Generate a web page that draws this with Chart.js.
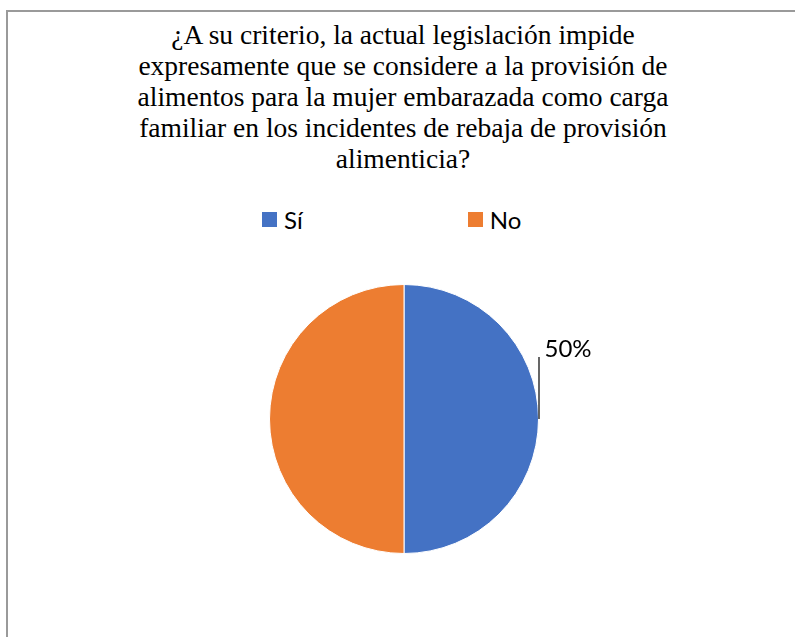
<!DOCTYPE html>
<html>
<head>
<meta charset="utf-8">
<script src="https://cdn.jsdelivr.net/npm/chart.js@4.4.1/dist/chart.umd.min.js"></script>
<style>
  html, body { margin: 0; padding: 0; background: #fff; width: 795px; height: 637px; overflow: hidden; }
  #frame { position: absolute; left: 6px; top: 10px; width: 830px; height: 680px;
    border-left: 2px solid #9a9a9a; border-top: 2px solid #9a9a9a; }
  #title { position: absolute; left: 0; top: 19px; width: 806px; text-align: center;
    font-family: "Liberation Serif", serif; font-size: 27.5px; line-height: 31px; color: #000; }
  #legend { position: absolute; left: 262px; top: 207px; height: 25px; display: flex; align-items: center; gap: 165px;
    font-family: Lato, sans-serif; font-size: 24px; color: #000; }
  .legend-item { display: flex; align-items: center; gap: 7px; }
  .legend-color { width: 15px; height: 15px; display: inline-block; }
  #wrap { position: absolute; left: 0; top: 0; width: 795px; height: 637px; }
</style>
</head>
<body>
<div id="frame"></div>
<div id="title"></div>
<div id="legend"></div>
<div id="wrap"><canvas id="pieChart"></canvas></div>
<script>
const titleLines = [
  "¿A su criterio, la actual legislación impide",
  "expresamente que se considere a la provisión de",
  "alimentos para la mujer embarazada como carga",
  "familiar en los incidentes de rebaja de provisión",
  "alimenticia?"
];
const categories = ["Sí", "No"];
const values = [50, 50];
const colors = ["#4472C4", "#ED7D31"];
const showLabel = [true, false];

document.getElementById("title").innerHTML = titleLines.join("<br>");

const leaderLabels = {
  id: "leaderLabels",
  afterDatasetsDraw(chart) {
    const ctx = chart.ctx;
    const data = chart.data.datasets[0].data;
    const total = data.reduce((a, b) => a + b, 0);
    chart.getDatasetMeta(0).data.forEach((arc, i) => {
      if (!showLabel[i]) return;
      const { x, y, startAngle, endAngle, outerRadius } =
        arc.getProps(["x", "y", "startAngle", "endAngle", "outerRadius"], true);
      const mid = (startAngle + endAngle) / 2;
      const px = x + Math.cos(mid) * outerRadius;
      const py = y + Math.sin(mid) * outerRadius;
      ctx.save();
      ctx.strokeStyle = "#000";
      ctx.lineWidth = 1.2;
      ctx.beginPath();
      ctx.moveTo(px + 0.5, py);
      ctx.lineTo(px + 0.5, py - 62);
      ctx.stroke();
      ctx.font = "24px Lato";
      ctx.fillStyle = "#000";
      ctx.textBaseline = "alphabetic";
      ctx.fillText(Math.round(data[i] / total * 100) + "%", px + 6, py - 62);
      ctx.restore();
    });
  }
};

const chart = new Chart(document.getElementById("pieChart"), {
  type: "pie",
  data: {
    labels: categories,
    datasets: [{ data: values, backgroundColor: colors, borderColor: "#fff", borderWidth: 1 }]
  },
  options: {
    responsive: true,
    maintainAspectRatio: false,
    animation: false,
    layout: { padding: { left: 269, right: 256, top: 284, bottom: 83 } },
    plugins: { legend: { display: false }, tooltip: { enabled: false }, title: { display: false } }
  },
  plugins: [leaderLabels]
});

// legend built from the chart's own legend items
const legendEl = document.getElementById("legend");
chart.options.plugins.legend.labels.generateLabels(chart).forEach((item) => {
  const div = document.createElement("div");
  div.className = "legend-item";
  div.innerHTML = `<span class="legend-color" style="background:${item.fillStyle};"></span><span>${item.text}</span>`;
  legendEl.appendChild(div);
});
</script>
</body>
</html>
